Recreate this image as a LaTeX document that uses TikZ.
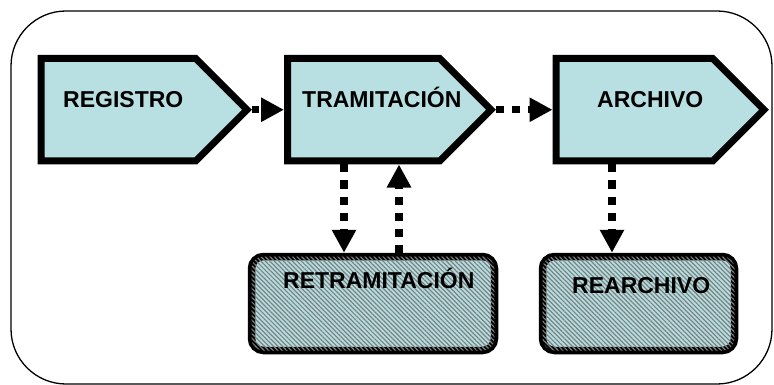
\documentclass[tikz,border=0pt]{standalone}
\usepackage{fontspec}
\setmainfont{Liberation Sans}
\usetikzlibrary{shapes.symbols,arrows.meta,patterns.meta}
\definecolor{procfill}{HTML}{B8E0E3}
\definecolor{hatchbg}{HTML}{B2DFE2}
\definecolor{hatchfg}{HTML}{808080}
\tikzset{
  proc/.style={shape=signal, signal to=east, signal pointer angle=90,
    draw=black, line width=7pt, fill=procfill, miter limit=10, anchor=west},
  subbox/.style={draw=black, line width=7.5pt, rounded corners=12pt, fill=hatchbg,
    postaction={pattern={Lines[angle=-45,distance=3.2pt,line width=1.2pt]}, pattern color=hatchfg}},
  lbl/.style={anchor=base west, inner sep=0pt, font=\fontsize{23}{27}\selectfont\bfseries},
  conn/.style={line width=7.5pt, dash pattern=on 8pt off 8pt, line cap=butt,
    -{Triangle[width=23pt,length=23pt]}}
}
\begin{document}
\begin{tikzpicture}[x=1pt,y=1pt]
\useasboundingbox (0,0) rectangle (774,-385);
\draw[line width=1.3pt, rounded corners=55pt] (11,-11) rectangle (772,-384);
\node[proc, minimum width=206pt, minimum height=102.5pt] (reg) at (37.5,-109.75) {};
\node[proc, minimum width=203.5pt, minimum height=102.5pt] (tram) at (284,-109.75) {};
\node[proc, minimum width=208pt, minimum height=102.5pt] (arch) at (552.5,-109.75) {};
\node[subbox, minimum width=243pt, minimum height=94pt] (retra) at (373,-303.5) {};
\node[subbox, minimum width=192pt, minimum height=94pt] (rearch) at (638.5,-303.5) {};
\node[lbl] (tReg) at (63,-108) {REGISTRO};
\node[lbl] (tTram) at (302,-108) {TRAMITACIÓN};
\node[lbl] (tArch) at (597,-108) {ARCHIVO};
\node[lbl] (tRetra) at (283,-288) {RETRAMITACIÓN};
\node[lbl] (tRearch) at (572,-293) {REARCHIVO};
\coordinate (xa) at (344,0);
\coordinate (xb) at (399,0);
\coordinate (xc) at (612,0);
\draw[conn, dash pattern=on 7pt off 2pt] (reg.east) -- (tram.west);
\draw[conn] (tram.east) -- (arch.west);
\draw[conn] (tram.south -| xa) -- (retra.north -| xa);
\draw[conn] (retra.north -| xb) -- (tram.south -| xb);
\draw[conn] (arch.south -| xc) -- (rearch.north -| xc);
\end{tikzpicture}
\end{document}
